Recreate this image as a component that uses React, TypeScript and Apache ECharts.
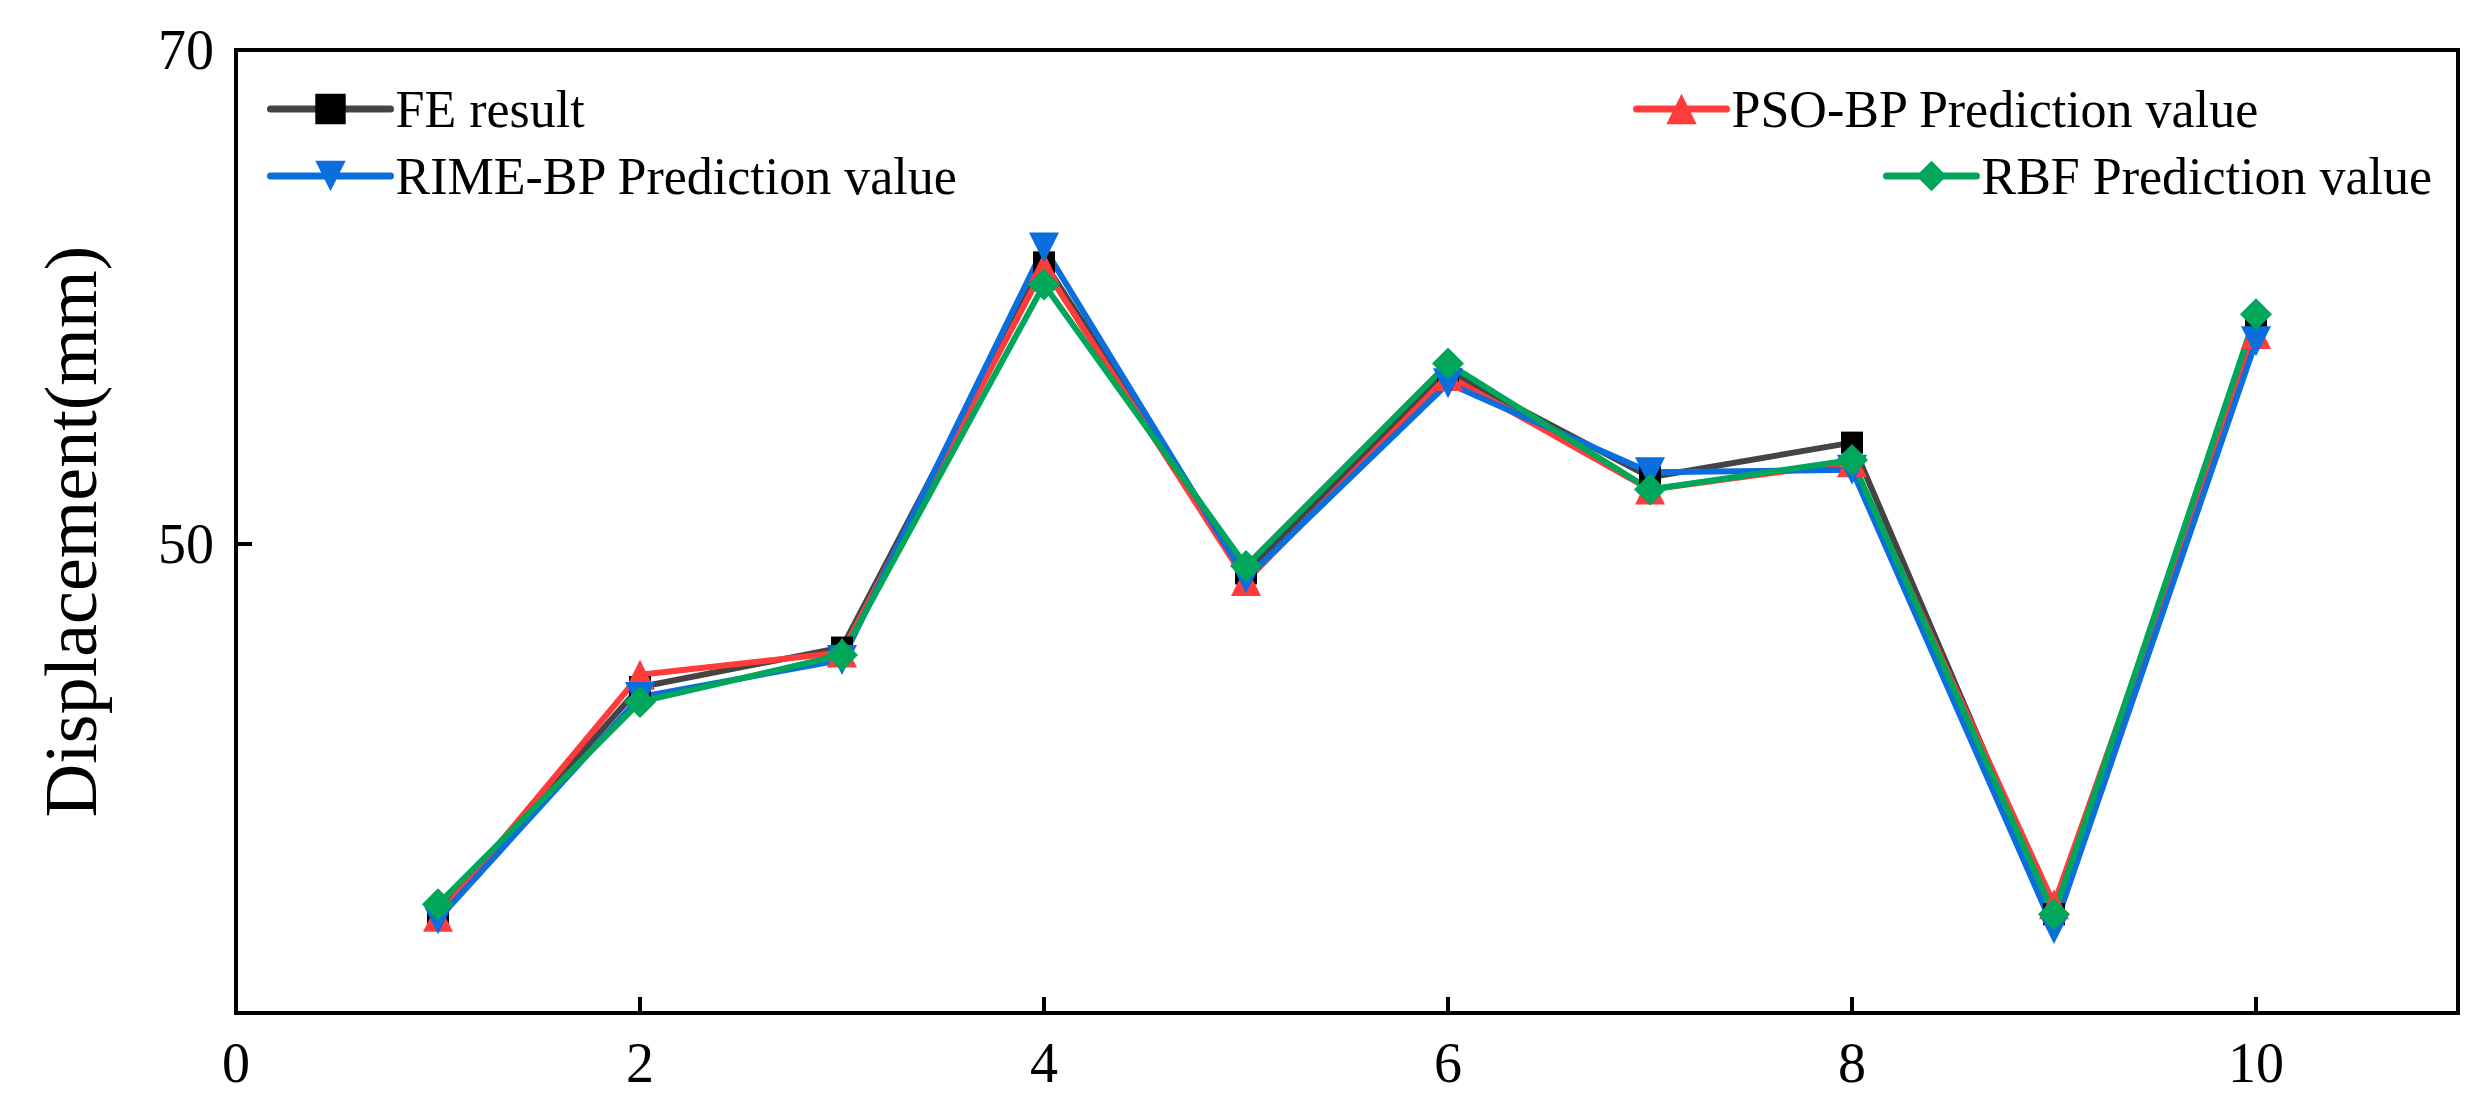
import React, { useEffect, useRef } from "react";
import * as echarts from "echarts";

const xValues = [1, 2, 3, 4, 5, 6, 7, 8, 9, 10];
const feResult = [35.0, 44.2, 45.8, 61.4, 48.8, 57.0, 52.7, 54.1, 35.0, 59.0];
const psoBp = [34.9, 44.7, 45.6, 61.2, 48.5, 56.8, 52.2, 53.3, 35.4, 58.5];
const rimeBp = [34.8, 43.8, 45.3, 62.0, 48.6, 56.5, 52.9, 53.0, 34.4, 58.2];
const rbf = [35.4, 43.6, 45.5, 60.5, 49.1, 57.3, 52.2, 53.4, 35.0, 59.3];
const xTickLabels = [0, 2, 4, 6, 8, 10];
const yTickLabels = [50, 70];
const seriesNames = [
  "FE result",
  "PSO-BP Prediction value",
  "RIME-BP Prediction value",
  "RBF Prediction value",
];

const FONT = '"Liberation Serif", "Times New Roman", serif';

function pairs(ys: number[]) {
  return xValues.map((x, i) => [x, ys[i]]);
}

export default function App() {
  const ref = useRef<HTMLDivElement>(null);
  useEffect(() => {
    if (!ref.current) return;
    const chart = echarts.init(ref.current, null, { renderer: "svg" });
    const legendBase = {
      orient: "horizontal",
      itemWidth: 120,
      itemHeight: 38,
      itemGap: 0,
      lineStyle: { width: 7, cap: "round" },
      textStyle: { fontFamily: FONT, fontSize: 52, color: "#000" },
      selectedMode: false,
    };
    const mk = (
      name: string,
      data: number[],
      lineColor: string,
      markColor: string,
      symbol: string,
      size: number,
      rotate = 0
    ) => ({
      name,
      type: "line",
      data: pairs(data),
      symbol,
      symbolSize: size,
      symbolRotate: rotate,
      showSymbol: true,
      lineStyle: { color: lineColor, width: 6 },
      itemStyle: { color: markColor },
      emphasis: { disabled: true },
    });
    chart.setOption({
      animation: false,
      backgroundColor: "#fff",
      grid: {
        left: 236,
        top: 50,
        right: 26,
        bottom: 91,
        show: true,
        borderColor: "#000",
        borderWidth: 4,
        containLabel: false,
      },
      legend: [
        { ...legendBase, data: [seriesNames[0]], left: 262, top: 78 },
        { ...legendBase, data: [seriesNames[2]], left: 262, top: 145 },
        { ...legendBase, itemWidth: 90, data: [seriesNames[1]], left: 1628, top: 78 },
        { ...legendBase, itemWidth: 90, data: [seriesNames[3]], left: 1878, top: 145 },
      ],
      xAxis: {
        type: "value",
        min: 0,
        max: 11,
        interval: 1,
        axisLine: { show: true, lineStyle: { color: "#000", width: 4 } },
        axisTick: {
          show: true,
          inside: true,
          length: 16,
          lineStyle: { color: "#000", width: 4 },
          customValues: xTickLabels,
        },
        axisLabel: {
          fontFamily: FONT,
          fontSize: 56,
          color: "#000",
          margin: 22,
          customValues: xTickLabels,
        },
        splitLine: { show: false },
      },
      yAxis: {
        type: "value",
        min: 31,
        max: 70,
        name: "Displacement(mm)",
        nameLocation: "middle",
        nameGap: 128,
        nameTextStyle: { fontFamily: FONT, fontSize: 74, color: "#000" },
        axisLine: { show: true, lineStyle: { color: "#000", width: 4 } },
        axisTick: {
          show: true,
          inside: true,
          length: 16,
          lineStyle: { color: "#000", width: 4 },
          customValues: yTickLabels,
        },
        axisLabel: {
          fontFamily: FONT,
          fontSize: 56,
          color: "#000",
          margin: 22,
          customValues: yTickLabels,
        },
        splitLine: { show: false },
      },
      series: [
        mk(seriesNames[0], feResult, "#444444", "#000000", "rect", 22),
        mk(seriesNames[1], psoBp, "#FF3B3B", "#FF3B3B", "triangle", 30),
        mk(seriesNames[2], rimeBp, "#0A6EDD", "#0A6EDD", "triangle", 30, 180),
        mk(seriesNames[3], rbf, "#00A65A", "#00A65A", "diamond", 32),
      ],
    });
    return () => chart.dispose();
  }, []);
  return (
    <div
      ref={ref}
      style={{ position: "fixed", left: 0, top: 0, width: 2484, height: 1104 }}
    />
  );
}
